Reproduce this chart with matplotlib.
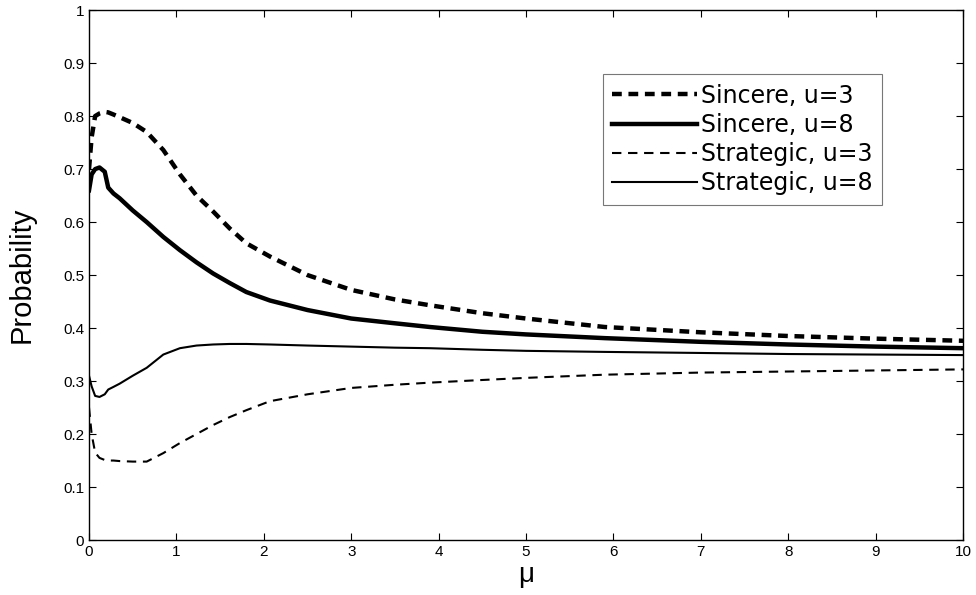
import matplotlib
matplotlib.use("Agg")
import matplotlib.pyplot as plt

plt.rcParams['font.family'] = ['Liberation Sans', 'DejaVu Sans']

# DATA
mu = [0, 0.03, 0.07, 0.12, 0.18, 0.22, 0.28, 0.35, 0.5, 0.66, 0.85, 1.04, 1.23,
      1.42, 1.61, 1.8, 2.07, 2.5, 3, 3.5, 3.9, 4.5, 5, 5.9, 7, 8, 9, 10]

sincere_u3 = [0.70, 0.76, 0.80, 0.805, 0.808, 0.807, 0.803, 0.798, 0.787, 0.77,
              0.736, 0.69, 0.65, 0.62, 0.588, 0.56, 0.535, 0.50, 0.472, 0.454,
              0.443, 0.428, 0.418, 0.402, 0.392, 0.385, 0.380, 0.376]

sincere_u8 = [0.66, 0.69, 0.70, 0.703, 0.695, 0.665, 0.654, 0.645, 0.622, 0.60,
              0.572, 0.547, 0.524, 0.503, 0.485, 0.468, 0.452, 0.434, 0.418, 0.409,
              0.402, 0.393, 0.388, 0.381, 0.374, 0.369, 0.365, 0.362]

strategic_u3 = [0.25, 0.20, 0.165, 0.155, 0.151, 0.150, 0.150, 0.149, 0.148, 0.148,
                0.164, 0.183, 0.200, 0.217, 0.232, 0.245, 0.262, 0.275, 0.287, 0.293,
                0.297, 0.302, 0.306, 0.312, 0.316, 0.318, 0.320, 0.322]

strategic_u8 = [0.31, 0.29, 0.272, 0.27, 0.275, 0.284, 0.289, 0.295, 0.31, 0.325,
                0.35, 0.362, 0.367, 0.369, 0.370, 0.370, 0.369, 0.367, 0.365, 0.363,
                0.362, 0.359, 0.357, 0.355, 0.353, 0.351, 0.350, 0.349]

labels = ["Sincere, u=3", "Sincere, u=8", "Strategic, u=3", "Strategic, u=8"]

# PLOT
fig = plt.figure(figsize=(9.76, 5.95), dpi=100)
ax = fig.add_axes([0.0912, 0.0924, 0.8955, 0.8906])

ax.plot(mu, sincere_u3, color='k', lw=3.2, dashes=(2.2, 1.5), label=labels[0])
ax.plot(mu, sincere_u8, color='k', lw=3.2, label=labels[1])
ax.plot(mu, strategic_u3, color='k', lw=1.5, dashes=(4.5, 3.2), label=labels[2])
ax.plot(mu, strategic_u8, color='k', lw=1.5, label=labels[3])

ax.set_xlim(0, 10)
ax.set_ylim(0, 1)
ax.set_xticks(range(0, 11))
ax.set_yticks([i / 10 for i in range(11)])
ax.set_yticklabels(["0", "0.1", "0.2", "0.3", "0.4", "0.5", "0.6", "0.7", "0.8", "0.9", "1"])
ax.tick_params(direction='in', top=True, right=True, length=5, labelsize=11, width=0.8)
for s in ax.spines.values():
    s.set_linewidth(1.0)

ax.set_xlabel("μ", fontsize=20, labelpad=2)
ax.set_ylabel("Probability", fontsize=21, labelpad=20)

leg = ax.legend(loc='upper left', bbox_to_anchor=(0.588, 0.879),
                prop={'family': 'DejaVu Sans', 'size': 17},
                frameon=True, fancybox=False, edgecolor='#555555',
                handlelength=3.6, handletextpad=0.15, labelspacing=0.22,
                borderpad=0.4, borderaxespad=0)
leg.get_frame().set_linewidth(0.8)

fig.savefig("out.png", dpi=100)
